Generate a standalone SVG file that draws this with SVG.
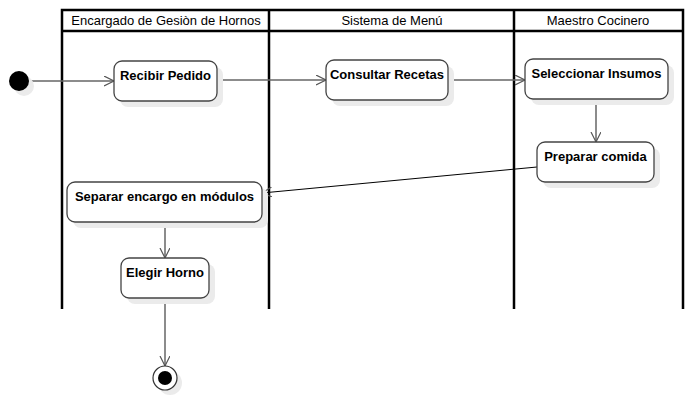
<svg xmlns="http://www.w3.org/2000/svg" width="696" height="401" viewBox="0 0 696 401">
<style>
.lane{fill:none;stroke:#000;stroke-width:2.5}
.hdr{font-family:"Liberation Sans",Arial,sans-serif;font-size:13px;fill:#000;text-anchor:middle}
.box{fill:#fff;stroke:#444;stroke-width:1.3}
.sh{fill:#ebebeb}
.lbl{font-family:"Liberation Sans",Arial,sans-serif;font-size:13px;font-weight:bold;fill:#000;text-anchor:middle}
.cn{fill:none;stroke:#666;stroke-width:1.5}
.cd{fill:none;stroke:#000;stroke-width:1}
</style>
<defs>
<marker id="ah" markerWidth="12" markerHeight="12" refX="10" refY="5" orient="auto" markerUnits="userSpaceOnUse">
<path d="M0,0 L10,5 L0,10" fill="none" stroke="#555" stroke-width="1.2"/>
</marker>
</defs>
<rect width="696" height="401" fill="#fff"/>
<g id="lanes">
<path class="lane" d="M62,309 V10 H683 V309 M62,31 H683 M269,10 V309 M514,10 V309"/>
<text class="hdr" x="166" y="25">Encargado de Gesiòn de Hornos</text>
<text class="hdr" x="392" y="25">Sistema de Menú</text>
<text class="hdr" x="598" y="25">Maestro Cocinero</text>
</g>
<g id="connectors">
<line class="cn" x1="29" y1="81" x2="114" y2="81" marker-end="url(#ah)"/>
<line class="cn" x1="217" y1="80" x2="326" y2="80" marker-end="url(#ah)"/>
<line class="cn" x1="448" y1="80" x2="525" y2="80" marker-end="url(#ah)"/>
<line class="cn" x1="596" y1="99" x2="596" y2="142" marker-end="url(#ah)"/>
<line class="cd" x1="537" y1="167" x2="262" y2="193" marker-end="url(#ah)"/>
<line class="cn" x1="165" y1="222" x2="165" y2="258" marker-end="url(#ah)"/>
<line class="cn" x1="165" y1="298" x2="165" y2="366" marker-end="url(#ah)"/>
</g>
<g id="start">
<circle cx="24" cy="86" r="10" class="sh"/>
<circle cx="19" cy="81" r="10" fill="#000"/>
</g>
<g id="recibir">
<rect class="sh" x="120" y="67" width="103" height="40" rx="8"/>
<rect class="box" x="114" y="61" width="103" height="40" rx="8"/>
<text class="lbl" x="165.5" y="80">Recibir Pedido</text>
</g>
<g id="consultar">
<rect class="sh" x="332" y="66" width="122" height="40" rx="8"/>
<rect class="box" x="326" y="60" width="122" height="40" rx="8"/>
<text class="lbl" x="387" y="79">Consultar Recetas</text>
</g>
<g id="seleccionar">
<rect class="sh" x="531" y="65" width="143" height="40" rx="8"/>
<rect class="box" x="525" y="59" width="143" height="40" rx="8"/>
<text class="lbl" x="596.5" y="78">Seleccionar Insumos</text>
</g>
<g id="preparar">
<rect class="sh" x="543" y="148" width="117" height="40" rx="8"/>
<rect class="box" x="537" y="142" width="117" height="40" rx="8"/>
<text class="lbl" x="595.5" y="161">Preparar comida</text>
</g>
<g id="separar">
<rect class="sh" x="73" y="188" width="195" height="40" rx="8"/>
<rect class="box" x="67" y="182" width="195" height="40" rx="8"/>
<text class="lbl" x="164.5" y="201">Separar encargo en módulos</text>
</g>
<g id="elegir">
<rect class="sh" x="127" y="264" width="88" height="40" rx="8"/>
<rect class="box" x="121" y="258" width="88" height="40" rx="8"/>
<text class="lbl" x="165" y="277">Elegir Horno</text>
</g>
<g id="end">
<circle cx="170" cy="383" r="12" class="sh"/>
<circle cx="165" cy="378" r="12" fill="#fff" stroke="#333" stroke-width="1.2"/>
<circle cx="165" cy="378" r="7" fill="#000"/>
</g>
</svg>
